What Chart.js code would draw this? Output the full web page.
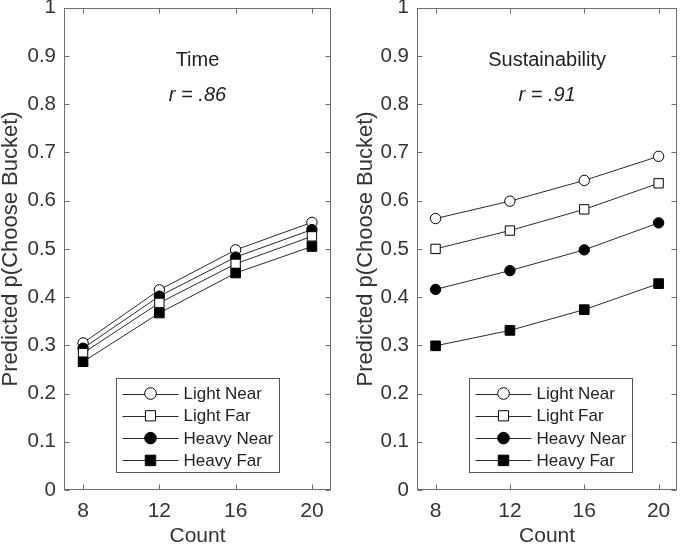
<!DOCTYPE html>
<html>
<head>
<meta charset="utf-8">
<script src="https://cdn.jsdelivr.net/npm/chart.js@4"></script>
<style>
  body { margin: 0; background: #fff; }
  #wrap { position: relative; width: 685px; height: 547px; }
  canvas { position: absolute; top: 0; }
</style>
</head>
<body>
<div id="wrap">
  <canvas id="timeChart" width="340" height="547" style="left:0"></canvas>
  <canvas id="sustChart" width="330" height="547" style="left:355px"></canvas>
</div>
<script>
// x values and series names
const counts = [8, 12, 16, 20];
const seriesLabels = ['Light Near', 'Light Far', 'Heavy Near', 'Heavy Far'];

// Time panel
const timeLightNear = [0.305, 0.415, 0.498, 0.555];
const timeLightFar = [0.284, 0.388, 0.469, 0.526];
const timeHeavyNear = [0.294, 0.402, 0.483, 0.540];
const timeHeavyFar = [0.266, 0.367, 0.450, 0.505];

// Sustainability panel
const sustLightNear = [0.563, 0.599, 0.642, 0.692];
const sustLightFar = [0.500, 0.538, 0.582, 0.636];
const sustHeavyNear = [0.416, 0.455, 0.498, 0.554];
const sustHeavyFar = [0.299, 0.331, 0.374, 0.428];

const FONT = "'Liberation Sans', Arial, sans-serif";
const TEXT = '#333';
const AXIS = '#6e6e6e';
const LINE = '#2a2a2a';

// marker look per series (LN, LF, HN, HF)
const markerStyle = ['circle', 'rect', 'circle', 'rect'];
const markerRadius = [5.2, 6.6, 5.2, 6.8];
const markerFill = ['#fff', '#fff', '#000', '#000'];
const drawOrder = [4, 2, 3, 1]; // lower = drawn later (on top)

// box around the axes + inward tick marks on all sides
const frameTicks = {
    id: 'frameTicks',
    beforeDatasetsDraw(chart) {
        const { ctx, chartArea: a, scales: { x, y } } = chart;
        const L = Math.round(a.left) + 0.5, R = Math.round(a.right) - 0.5;
        const T = Math.round(a.top) + 0.5, B = Math.round(a.bottom) - 0.5;
        const len = 5;
        ctx.save();
        ctx.strokeStyle = AXIS;
        ctx.lineWidth = 1;
        ctx.strokeRect(L, T, R - L, B - T);
        ctx.beginPath();
        x.ticks.forEach(t => {
            const px = Math.round(x.getPixelForValue(t.value)) + 0.5;
            ctx.moveTo(px, B); ctx.lineTo(px, B - len);
            ctx.moveTo(px, T); ctx.lineTo(px, T + len);
        });
        y.ticks.forEach(t => {
            const py = Math.round(y.getPixelForValue(t.value)) + 0.5;
            ctx.moveTo(L, py); ctx.lineTo(L + len, py);
            ctx.moveTo(R, py); ctx.lineTo(R - len, py);
        });
        ctx.stroke();
        ctx.restore();
    }
};

// panel name and correlation written inside the plot
const panelText = {
    id: 'panelText',
    afterDraw(chart, args, opts) {
        const { ctx, chartArea: a } = chart;
        const cx = (a.left + a.right) / 2;
        ctx.save();
        ctx.fillStyle = '#222';
        ctx.textAlign = 'center';
        ctx.textBaseline = 'alphabetic';
        ctx.font = `20px ${FONT}`;
        ctx.fillText(opts.title, cx, a.top + 58);
        ctx.font = `italic 20px ${FONT}`;
        ctx.fillText('r = ' + opts.r, cx, a.top + 93);
        ctx.restore();
    }
};

// legend box inside the lower part of the plot
const insideLegend = {
    id: 'insideLegend',
    afterDraw(chart) {
        const { ctx, chartArea: a } = chart;
        const bx = Math.round(a.left) + 52.5, by = Math.round(a.bottom) - 112 + 0.5;
        const w = 163, h = 94;
        ctx.save();
        ctx.fillStyle = '#fff';
        ctx.fillRect(bx, by, w, h);
        ctx.strokeStyle = '#555';
        ctx.lineWidth = 1;
        ctx.strokeRect(bx, by, w, h);
        ctx.font = `17px ${FONT}`;
        ctx.textBaseline = 'middle';
        chart.data.datasets.forEach((ds, i) => {
            const ry = by + 15 + i * 22.3;
            ctx.strokeStyle = LINE;
            ctx.beginPath();
            ctx.moveTo(bx + 6, Math.round(ry) + 0.5);
            ctx.lineTo(bx + 62, Math.round(ry) + 0.5);
            ctx.stroke();
            ctx.fillStyle = ds.pointBackgroundColor;
            ctx.strokeStyle = '#000';
            ctx.lineWidth = 1;
            Chart.helpers.drawPoint(ctx, {
                pointStyle: ds.pointStyle, radius: ds.pointRadius + 0.6, borderWidth: 1, rotation: 0
            }, bx + 34, ry);
            ctx.fillStyle = '#222';
            ctx.fillText(ds.label, bx + 67, ry + 1);
        });
        ctx.restore();
    }
};

const makeDatasets = series => seriesLabels.map((label, i) => ({
    label,
    data: counts.map((c, j) => ({ x: c, y: series[i][j] })),
    borderColor: LINE,
    borderWidth: 1,
    pointStyle: markerStyle[i],
    pointRadius: markerRadius[i],
    pointBackgroundColor: markerFill[i],
    pointBorderColor: '#000',
    pointBorderWidth: 1,
    order: drawOrder[i],
    tension: 0
}));

const makeChart = (id, series, panel, yWidth, padRight) => new Chart(document.getElementById(id), {
    type: 'line',
    data: { datasets: makeDatasets(series) },
    options: {
        responsive: false,
        animation: false,
        devicePixelRatio: 1,
        layout: { padding: { left: 0, right: padRight, top: 7, bottom: 0 } },
        plugins: {
            legend: { display: false },
            tooltip: { enabled: false },
            panelText: panel
        },
        scales: {
            x: {
                type: 'linear',
                min: 7,
                max: 21,
                afterBuildTicks: s => { s.ticks = counts.map(v => ({ value: v })); },
                afterFit: s => { s.height = 57; s.paddingLeft = 0; s.paddingRight = 0; },
                grid: { display: false, drawTicks: false },
                border: { display: false },
                ticks: { padding: 9, color: TEXT, font: { family: FONT, size: 21 }, callback: v => String(v) },
                title: { display: true, text: 'Count', color: TEXT, font: { family: FONT, size: 21, lineHeight: 1 }, padding: 0 }
            },
            y: {
                min: 0,
                max: 1,
                afterFit: s => { s.width = yWidth; s.paddingTop = 0; s.paddingBottom = 0; },
                grid: { display: false, drawTicks: false },
                border: { display: false },
                ticks: {
                    stepSize: 0.1,
                    padding: 8,
                    color: TEXT,
                    font: { family: FONT, size: 20.5 },
                    callback: v => {
                        const r = Math.round(v * 10) / 10;
                        return r === 0 || r === 1 ? String(r) : r.toFixed(1);
                    }
                },
                title: { display: true, text: 'Predicted p(Choose Bucket)', color: TEXT, font: { family: FONT, size: 22, lineHeight: 1 }, padding: 0 }
            }
        }
    },
    plugins: [frameTicks, panelText, insideLegend]
});

makeChart('timeChart', [timeLightNear, timeLightFar, timeHeavyNear, timeHeavyFar], { title: 'Time', r: '.86' }, 64, 9);
makeChart('sustChart', [sustLightNear, sustLightFar, sustHeavyNear, sustHeavyFar], { title: 'Sustainability', r: '.91' }, 62, 2);
</script>
</body>
</html>
